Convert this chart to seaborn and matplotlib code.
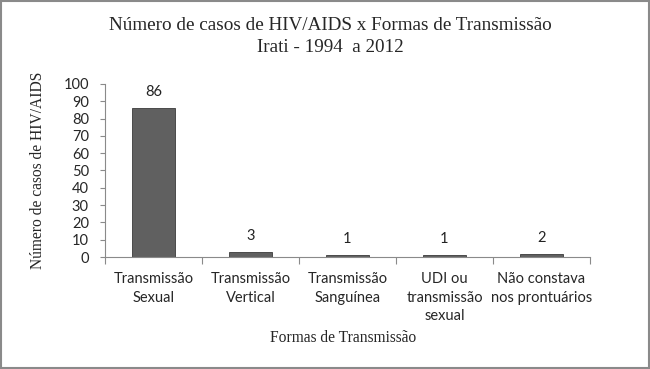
import seaborn as sns
import matplotlib.pyplot as plt
import pandas as pd

# Dados
categorias = ['Transmissão\nSexual', 'Transmissão\nVertical', 'Transmissão\nSanguínea',
              'UDI ou\ntransmissão\nsexual', 'Não constava\nnos prontuários']
casos = [86, 3, 1, 1, 2]
yticks = list(range(0, 101, 10))

df = pd.DataFrame({'forma': categorias, 'casos': casos})

sns.set_style('white')
fig = plt.figure(figsize=(6.5, 3.69), dpi=100)
ax = fig.add_axes([0.1615, 0.3035, 0.7462, 0.469])

sns.barplot(data=df, x='forma', y='casos', color='#606060', width=0.45,
            edgecolor='#3a3a3a', linewidth=0.6, saturation=1, ax=ax)

ax.set_ylim(0, 100)
ax.set_xlim(-0.5, len(categorias) - 0.5)
ax.set_yticks(yticks)

sans = ['Lato', 'DejaVu Sans']
serif = ['Liberation Serif', 'DejaVu Serif']

ax.tick_params(axis='y', length=3.6, width=0.8, color='#8a8a8a', pad=8, direction='out', left=True)
ax.tick_params(axis='x', length=0, pad=10.5)
# marcas nas fronteiras das categorias
ax.set_xticks([i - 0.5 for i in range(len(categorias) + 1)], minor=True)
ax.tick_params(axis='x', which='minor', length=5, width=0.8, color='#8a8a8a', bottom=True)

for s in ['top', 'right']:
    ax.spines[s].set_visible(False)
for s in ['left', 'bottom']:
    ax.spines[s].set_color('#8a8a8a')
    ax.spines[s].set_linewidth(0.8)

# Rótulos de valor
for p, v in zip(ax.patches, casos):
    ax.annotate(f'{v}', (p.get_x() + p.get_width() / 2, p.get_height()),
                xytext=(0, 6.5), textcoords='offset points', ha='center', va='bottom',
                fontsize=10.5, family=sans, color='#222222')

ax.set_xlabel('Formas de Transmissão', fontsize=11.2, family=serif)
ax.xaxis.set_label_coords(0.49, -0.42)
ax.set_ylabel('Número de casos de HIV/AIDS', fontsize=11.2, family=serif, labelpad=12.5)

fig.text(0.508, 0.932, 'Número de casos de HIV/AIDS x Formas de Transmissão',
         ha='center', va='center', fontsize=13.8, family=serif)
fig.text(0.508, 0.870, 'Irati - 1994  a 2012',
         ha='center', va='center', fontsize=13.8, family=serif)

# Moldura
fig.patches.append(plt.Rectangle((0.002, 0.003), 0.996, 0.994, transform=fig.transFigure,
                                 fill=False, edgecolor='#8a8a8a', linewidth=1.5))

fig.canvas.draw()
for lab in ax.get_yticklabels():
    lab.set_fontfamily(sans)
    lab.set_fontsize(10.5)
for lab in ax.get_xticklabels():
    lab.set_fontfamily(sans)
    lab.set_fontsize(10.5)
    lab.set_linespacing(1.45)

fig.savefig('out.png', dpi=100)
